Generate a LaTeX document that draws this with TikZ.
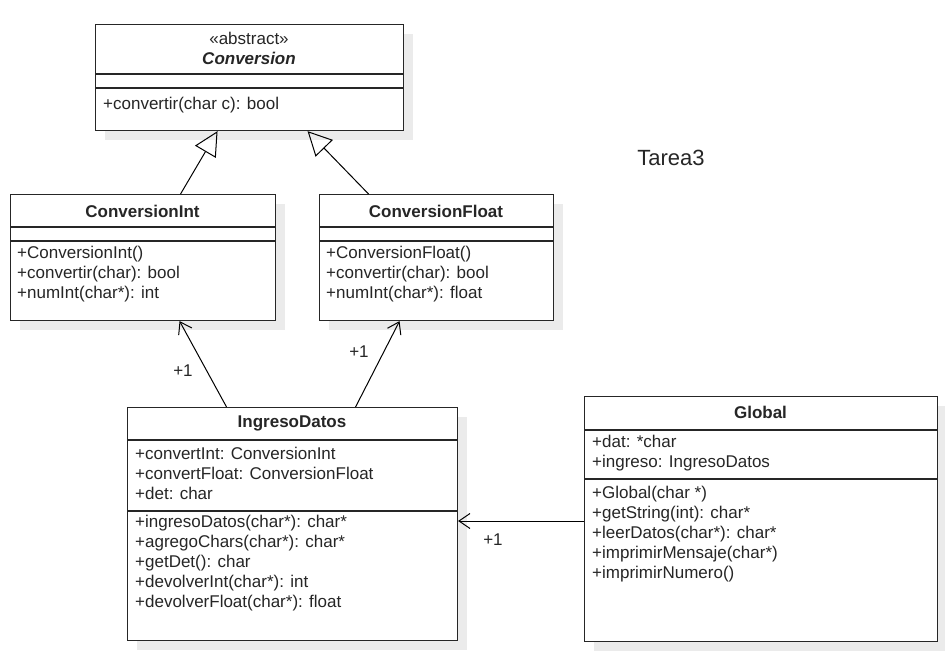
\documentclass[tikz,border=0pt]{standalone}
\usepackage{fontspec}
\setmainfont{Liberation Sans}
\usetikzlibrary{arrows.meta,shadows}
\newcommand\taille{\fontsize{17}{20}\selectfont}

\begin{document}
\begin{tikzpicture}[x=1pt,y=-1pt,font=\taille,text=black!85,
		classe/.style={draw=black!85,line width=1.1pt,fill=white,anchor=north west,inner sep=0pt,
			drop shadow={shadow xshift=9pt,shadow yshift=-9pt,fill=black!8,opacity=1}},
		trait/.style={draw=black!85,line width=1.1pt},
		titre/.style={font=\taille\bfseries},
		membres/.style={anchor=west,align=left,inner sep=0pt},
		herite/.style={-{Triangle[open,length=24pt,width=24pt]},line width=1pt},
		assoc/.style={-{Straight Barb[length=11pt,width=15pt]},line width=1pt}]
	\useasboundingbox (0,0) rectangle (945,663);
	%%%%%%%% les classes
	\node[classe,minimum width=308pt,minimum height=106pt] (conversion) at (95,24) {};
	\node[classe,minimum width=265pt,minimum height=126pt] (cint) at (10,194) {};
	\node[classe,minimum width=234pt,minimum height=126pt] (cfloat) at (319,194) {};
	\node[classe,minimum width=330pt,minimum height=233pt] (ingreso) at (127,407) {};
	\node[classe,minimum width=353pt,minimum height=245pt] (global) at (584,396) {};
	%%%%%%%% separations
	\foreach \y in {74,88}
		\draw[trait] (conversion.west |- 0,\y) -- (conversion.east |- 0,\y);
	\foreach \y in {227,241}{
		\draw[trait] (cint.west |- 0,\y) -- (cint.east |- 0,\y);
		\draw[trait] (cfloat.west |- 0,\y) -- (cfloat.east |- 0,\y);}
	\foreach \y in {440,511}
		\draw[trait] (ingreso.west |- 0,\y) -- (ingreso.east |- 0,\y);
	\foreach \y in {430,479}
		\draw[trait] (global.west |- 0,\y) -- (global.east |- 0,\y);
	%%%%%%%% textes
	\node[align=center] (conversion-nom) at (249,48) {«abstract»\\\textbf{\textit{Conversion}}};
	\node[membres] (conversion-op) at (103,105) {+convertir(char c): bool};
	\node[titre] (cint-nom) at (142.5,211) {ConversionInt};
	\node[membres] (cint-op) at (17,274) {+ConversionInt()\\+convertir(char): bool\\+numInt(char*): int};
	\node[titre] (cfloat-nom) at (436,211) {ConversionFloat};
	\node[membres] (cfloat-op) at (326,274) {+ConversionFloat()\\+convertir(char): bool\\+numInt(char*): float};
	\node[titre] (ingreso-nom) at (292,423) {IngresoDatos};
	\node[membres] (ingreso-att) at (135,473) {+convertInt: ConversionInt\\+convertFloat: ConversionFloat\\+det: char};
	\node[membres] (ingreso-op) at (135,563.5) {+ingresoDatos(char*): char*\\+agregoChars(char*): char*\\+getDet(): char\\+devolverInt(char*): int\\+devolverFloat(char*): float};
	\node[titre] (global-nom) at (760.5,412) {Global};
	\node[membres] (global-att) at (592,453) {+dat: *char\\+ingreso: IngresoDatos};
	\node[membres] (global-op) at (592,534) {+Global(char *)\\+getString(int): char*\\+leerDatos(char*): char*\\+imprimirMensaje(char*)\\+imprimirNumero()};
	\node[font=\fontsize{22}{26}\selectfont] (tarea) at (671,158) {Tarea3};
	%%%%%%%% relations
	\draw[herite] ([xshift=37.5pt]cint.north) -- ([xshift=-32pt]conversion.south);
	\draw[herite] ([xshift=-68pt]cfloat.north) -- ([xshift=58pt]conversion.south);
	\draw[assoc] ([xshift=-66pt]ingreso.north) -- ([xshift=36.5pt]cint.south);
	\draw[assoc] ([xshift=63pt]ingreso.north) -- ([xshift=-37pt]cfloat.south);
	\draw[assoc] (global.west |- 0,521) -- (ingreso.east |- 0,521);
	\node (mult-int) at (183,371) {+1};
	\node (mult-float) at (359,352) {+1};
	\node (mult-global) at (493,540) {+1};
\end{tikzpicture}
\end{document}
